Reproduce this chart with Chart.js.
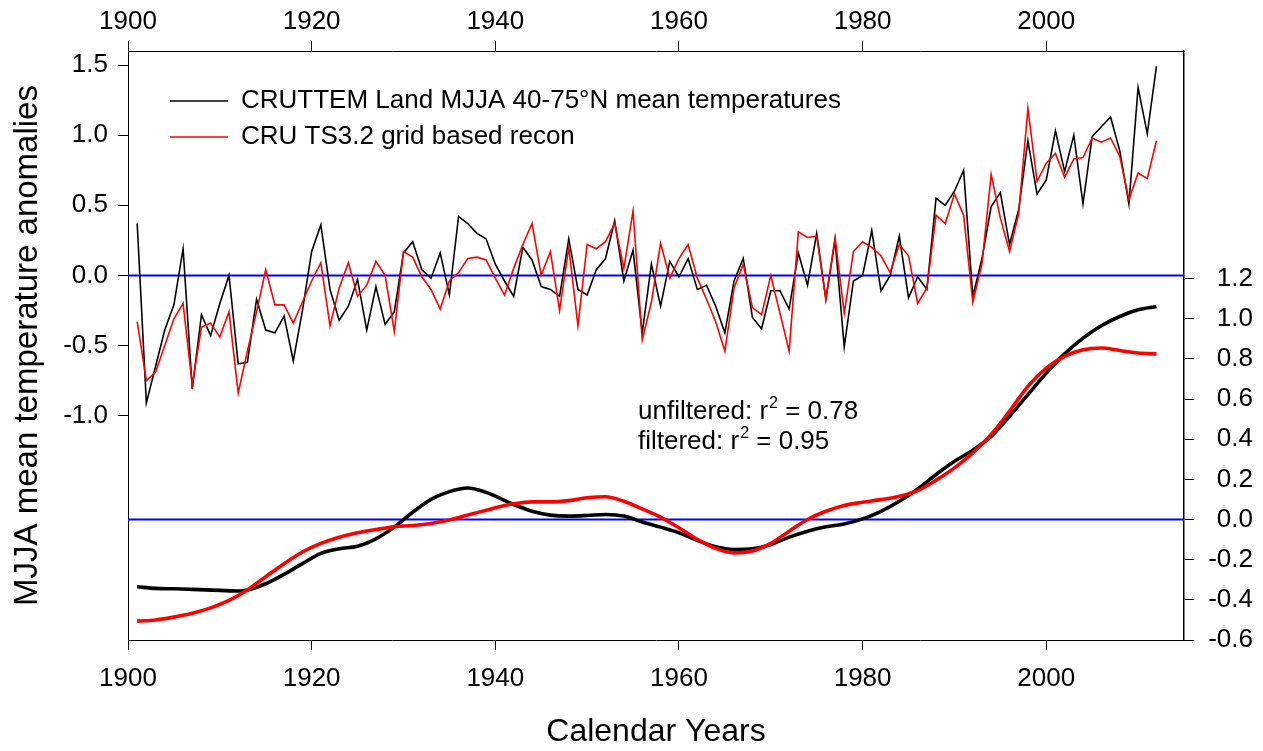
<!DOCTYPE html>
<html>
<head>
<meta charset="utf-8">
<title>MJJA temperature anomalies</title>
<script src="https://cdn.jsdelivr.net/npm/chart.js@4.4.1/dist/chart.umd.min.js"></script>
<style>
  html, body { margin: 0; padding: 0; background: #ffffff; }
  #wrap { width: 1263px; height: 751px; }
</style>
</head>
<body>
<div id="wrap"><canvas id="chart" width="1263" height="751"></canvas></div>
<script>
// Annual MJJA anomalies, 1901-2012 (left axis)
const firstYear = 1901;
const cruttemAnnual = [
  0.37, -0.91, -0.65, -0.39, -0.21, 0.19, -0.81, -0.28, -0.43, -0.20,
  0.00, -0.63, -0.62, -0.17, -0.39, -0.41, -0.29, -0.61, -0.25, 0.17,
  0.36, -0.10, -0.32, -0.22, -0.03, -0.39, -0.08, -0.35, -0.26, 0.16,
  0.24, 0.04, -0.02, 0.16, -0.14, 0.42, 0.37, 0.30, 0.26, 0.08,
  -0.04, -0.15, 0.20, 0.11, -0.08, -0.10, -0.15, 0.26, -0.10, -0.14,
  0.04, 0.12, 0.39, -0.04, 0.18, -0.41, 0.08, -0.22, 0.10, -0.01,
  0.12, -0.10, -0.07, -0.22, -0.41, -0.04, 0.12, -0.30, -0.38, -0.11,
  -0.11, -0.24, 0.16, -0.07, 0.30, -0.17, 0.25, -0.51, -0.04, 0.00,
  0.32, -0.11, 0.00, 0.28, -0.16, -0.01, -0.10, 0.55, 0.50, 0.60,
  0.75, -0.15, 0.12, 0.49, 0.59, 0.22, 0.47, 0.96, 0.58, 0.68,
  1.03, 0.74, 1.00, 0.51, 0.99, 1.06, 1.13, 0.89, 0.51, 1.34,
  1.01, 1.49
];
const cruTs32Annual = [
  -0.33, -0.75, -0.69, -0.50, -0.31, -0.20, -0.78, -0.37, -0.34, -0.44,
  -0.26, -0.84, -0.54, -0.26, 0.04, -0.21, -0.21, -0.34, -0.19, -0.04,
  0.09, -0.36, -0.09, 0.09, -0.15, -0.07, 0.10, 0.00, -0.40, 0.17,
  0.13, -0.01, -0.10, -0.24, -0.04, 0.02, 0.12, 0.13, 0.11, -0.02,
  -0.14, 0.05, 0.22, 0.37, 0.00, 0.17, -0.25, 0.20, -0.36, 0.22,
  0.19, 0.24, 0.37, 0.05, 0.46, -0.46, -0.19, 0.23, -0.02, 0.12,
  0.22, -0.02, -0.17, -0.33, -0.54, -0.09, 0.08, -0.23, -0.28, 0.00,
  -0.27, -0.54, 0.31, 0.27, 0.28, -0.17, 0.27, -0.27, 0.17, 0.24,
  0.20, 0.14, 0.02, 0.22, 0.14, -0.20, -0.09, 0.43, 0.37, 0.58,
  0.43, -0.19, 0.08, 0.72, 0.41, 0.17, 0.44, 1.19, 0.67, 0.80,
  0.87, 0.70, 0.83, 0.84, 0.98, 0.95, 0.98, 0.85, 0.54, 0.73,
  0.69, 0.96
];
const annualYears = cruttemAnnual.map((_, i) => firstYear + i);

// Low-pass filtered series (right axis)
const cruttemSmoothYears = [
  1901, 1903, 1905, 1907, 1910, 1912, 1913, 1915, 1917, 1919, 1921, 1923, 1925,
  1927, 1929, 1931, 1933, 1935, 1937, 1939, 1940, 1942, 1944, 1946, 1948, 1950,
  1952, 1954, 1956, 1958, 1960, 1962, 1964, 1966, 1968, 1970, 1972, 1974, 1976,
  1978, 1980, 1982, 1984, 1986, 1988, 1990, 1992, 1994, 1996, 1998, 2000, 2002,
  2004, 2006, 2008, 2010, 2012
];
const cruttemSmooth = [
  -0.335, -0.343, -0.345, -0.348, -0.353, -0.356, -0.351, -0.320, -0.273, -0.220,
  -0.169, -0.146, -0.133, -0.096, -0.038, 0.036, 0.100, 0.139, 0.157, 0.135,
  0.116, 0.075, 0.041, 0.022, 0.017, 0.020, 0.025, 0.017, -0.012, -0.038,
  -0.066, -0.104, -0.136, -0.149, -0.146, -0.124, -0.088, -0.058, -0.036, -0.022,
  0.003, 0.041, 0.091, 0.152, 0.224, 0.290, 0.345, 0.414, 0.514, 0.622,
  0.729, 0.825, 0.903, 0.965, 1.011, 1.044, 1.061
];
const cruTsSmoothYears = [
  1901, 1903, 1905, 1907, 1909, 1911, 1913, 1915, 1917, 1919, 1921, 1923, 1925,
  1927, 1929, 1931, 1933, 1935, 1937, 1939, 1940, 1942, 1944, 1946, 1948, 1950,
  1952, 1954, 1956, 1958, 1960, 1962, 1964, 1966, 1968, 1970, 1972, 1974, 1976,
  1978, 1980, 1982, 1984, 1986, 1988, 1990, 1992, 1994, 1996, 1998, 2000, 2002,
  2004, 2006, 2008, 2010, 2012
];
const cruTsSmooth = [
  -0.506, -0.500, -0.486, -0.467, -0.440, -0.403, -0.351, -0.285, -0.220, -0.162,
  -0.119, -0.088, -0.066, -0.050, -0.036, -0.030, -0.020, -0.003, 0.022, 0.046,
  0.058, 0.078, 0.088, 0.088, 0.094, 0.108, 0.113, 0.091, 0.053, 0.012,
  -0.041, -0.099, -0.144, -0.166, -0.157, -0.119, -0.058, 0.000, 0.041, 0.070,
  0.086, 0.099, 0.116, 0.144, 0.196, 0.257, 0.332, 0.423, 0.539, 0.663,
  0.754, 0.812, 0.845, 0.854, 0.842, 0.829, 0.825
];

// Axis ranges and tick labels
const yearRange = [1900, 2015];
const yearTicks = [1900, 1920, 1940, 1960, 1980, 2000];
const leftRange = [-2.6, 1.6];
const leftTicks = [-1.0, -0.5, 0.0, 0.5, 1.0, 1.5];
const rightRange = [-0.6, 2.333];
const rightTicks = [-0.6, -0.4, -0.2, 0.0, 0.2, 0.4, 0.6, 0.8, 1.0, 1.2];
const zeroLine = [0, 0];

const statsText = [
  { lead: 'unfiltered: r', sup: '2', tail: ' = 0.78' },
  { lead: 'filtered: r', sup: '2', tail: ' = 0.95' }
];

const FONT = "'Liberation Sans', Arial, Helvetica, sans-serif";
Chart.defaults.font.family = FONT;
Chart.defaults.color = '#000000';

const pts = (xs, ys) => xs.map((x, i) => ({ x: x, y: ys[i] }));

// Shifts the in-plot legend to its place below the top axis
const legendPlacer = {
  id: 'legendPlacer',
  afterLayout(chart) {
    const lg = chart.legend;
    if (!lg) return;
    const dx = 32, dy = 78;
    lg.left += dx; lg.right += dx;
    lg.top += dy; lg.bottom += dy;
  }
};

// r-squared annotation in the middle of the plot
const statsLabel = {
  id: 'statsLabel',
  afterDatasetsDraw(chart) {
    const ctx = chart.ctx;
    const area = chart.chartArea;
    ctx.save();
    ctx.fillStyle = '#000000';
    ctx.textBaseline = 'alphabetic';
    ctx.textAlign = 'left';
    const x0 = area.left + 510;
    const baselines = [area.top + 368, area.top + 398];
    statsText.forEach((t, i) => {
      let x = x0;
      const y = baselines[i];
      ctx.font = '26px ' + FONT;
      ctx.fillText(t.lead, x, y);
      x += ctx.measureText(t.lead).width + 1;
      ctx.font = '16px ' + FONT;
      ctx.fillText(t.sup, x, y - 11);
      x += ctx.measureText(t.sup).width;
      ctx.font = '26px ' + FONT;
      ctx.fillText(t.tail, x, y);
    });
    ctx.restore();
  }
};

const tickFont = { size: 26, family: FONT };
const axisGrid = { drawOnChartArea: false, drawTicks: true, tickLength: 10, color: '#000000', tickColor: '#000000', lineWidth: 1 };
const axisBorder = { display: true, color: '#000000', width: 1 };

new Chart(document.getElementById('chart'), {
  type: 'line',
  data: {
    datasets: [
      {
        label: 'CRU TS3.2 filtered',
        data: pts(cruTsSmoothYears, cruTsSmooth),
        xAxisID: 'x', yAxisID: 'y2',
        borderColor: '#ff0000', borderWidth: 3.6,
        cubicInterpolationMode: 'monotone', pointRadius: 0
      },
      {
        label: 'CRUTTEM filtered',
        data: pts(cruttemSmoothYears, cruttemSmooth),
        xAxisID: 'x', yAxisID: 'y2',
        borderColor: '#000000', borderWidth: 3.6,
        cubicInterpolationMode: 'monotone', pointRadius: 0
      },
      {
        label: 'CRU TS3.2 grid based recon',
        data: pts(annualYears, cruTs32Annual),
        xAxisID: 'x', yAxisID: 'y',
        borderColor: '#ff0000', borderWidth: 1.6,
        tension: 0, pointRadius: 0
      },
      {
        label: 'CRUTTEM Land MJJA 40-75°N mean temperatures',
        data: pts(annualYears, cruttemAnnual),
        xAxisID: 'x', yAxisID: 'y',
        borderColor: '#000000', borderWidth: 1.6,
        tension: 0, pointRadius: 0
      },
      {
        label: 'zero (annual)',
        data: pts(yearRange, zeroLine),
        xAxisID: 'x', yAxisID: 'y',
        borderColor: '#0000ff', borderWidth: 2, pointRadius: 0
      },
      {
        label: 'zero (filtered)',
        data: pts(yearRange, zeroLine),
        xAxisID: 'x', yAxisID: 'y2',
        borderColor: '#0000ff', borderWidth: 2, pointRadius: 0
      }
    ]
  },
  options: {
    responsive: false,
    animation: false,
    devicePixelRatio: 1,
    layout: { padding: { left: 0, top: 0, bottom: 0, right: 10 } },
    plugins: {
      tooltip: { enabled: false },
      legend: {
        display: true,
        position: 'chartArea',
        align: 'start',
        labels: {
          usePointStyle: true,
          pointStyleWidth: 58,
          padding: 10,
          color: '#000000',
          font: { size: 26, family: FONT },
          generateLabels(chart) {
            return [3, 2].map(i => {
              const ds = chart.data.datasets[i];
              return {
                text: ds.label,
                strokeStyle: ds.borderColor,
                fillStyle: ds.borderColor,
                lineWidth: 1.6,
                pointStyle: 'line',
                hidden: false,
                datasetIndex: i
              };
            });
          }
        }
      }
    },
    scales: {
      x: {
        type: 'linear', position: 'bottom',
        min: yearRange[0], max: yearRange[1],
        afterBuildTicks: s => { s.ticks = yearTicks.map(v => ({ value: v })); },
        afterFit: s => { s.height = 111; },
        ticks: { font: tickFont, padding: 13, maxRotation: 0, autoSkip: false, callback: v => String(v) },
        grid: axisGrid, border: axisBorder,
        title: { display: true, text: 'Calendar Years', font: { size: 32, family: FONT, lineHeight: 1 }, padding: { top: 0, bottom: 3 } }
      },
      x2: {
        type: 'linear', position: 'top',
        min: yearRange[0], max: yearRange[1],
        afterBuildTicks: s => { s.ticks = yearTicks.map(v => ({ value: v })); },
        afterFit: s => { s.height = 51; },
        ticks: { font: tickFont, padding: 4, maxRotation: 0, autoSkip: false, callback: v => String(v) },
        grid: axisGrid, border: axisBorder
      },
      y: {
        type: 'linear', position: 'left',
        min: leftRange[0], max: leftRange[1],
        afterBuildTicks: s => { s.ticks = leftTicks.map(v => ({ value: v })); },
        afterFit: s => { s.width = 128; },
        ticks: { font: tickFont, padding: 10, autoSkip: false, callback: v => Number(v).toFixed(1) },
        grid: axisGrid, border: axisBorder,
        title: { display: true, text: 'MJJA mean temperature anomalies', font: { size: 33, family: FONT, lineHeight: 1 }, padding: { top: 11, bottom: 0 } }
      },
      y2: {
        type: 'linear', position: 'right',
        min: rightRange[0], max: rightRange[1],
        afterBuildTicks: s => { s.ticks = rightTicks.map(v => ({ value: v })); },
        afterFit: s => { s.width = 69; },
        ticks: { font: tickFont, padding: 3, crossAlign: 'far', autoSkip: false, callback: v => Number(v).toFixed(1) },
        grid: axisGrid, border: { display: true, color: '#000000', width: 1.5 }
      }
    }
  },
  plugins: [legendPlacer, statsLabel]
});
</script>
</body>
</html>
